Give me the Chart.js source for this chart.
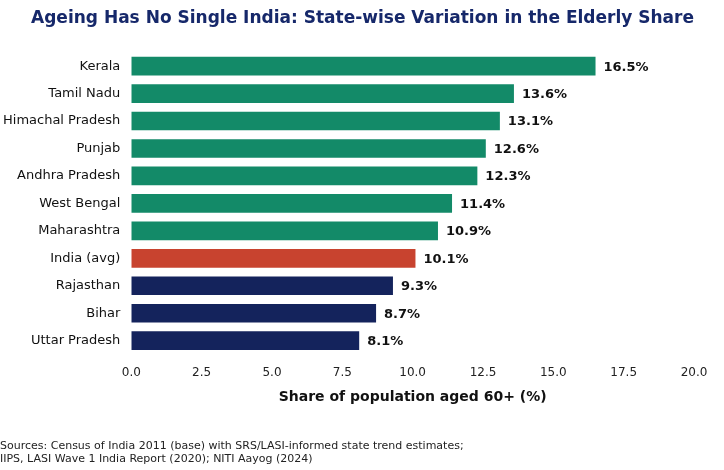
<!DOCTYPE html>
<html>
<head>
<meta charset="utf-8">
<script src="https://cdn.jsdelivr.net/npm/chart.js@4"></script>
<style>
  html, body { margin: 0; padding: 0; background: #fff; }
  #wrap { width: 724px; height: 470px; }
</style>
</head>
<body>
<div id="wrap"><canvas id="myChart"></canvas></div>
<script>
const states = ["Kerala", "Tamil Nadu", "Himachal Pradesh", "Punjab", "Andhra Pradesh", "West Bengal",
  "Maharashtra", "India (avg)", "Rajasthan", "Bihar", "Uttar Pradesh"];
const elderlyShare = [16.5, 13.6, 13.1, 12.6, 12.3, 11.4, 10.9, 10.1, 9.3, 8.7, 8.1];
const barColors = ["#138a68", "#138a68", "#138a68", "#138a68", "#138a68", "#138a68", "#138a68",
  "#c8432f", "#14235c", "#14235c", "#14235c"];
const xTicks = [0, 2.5, 5, 7.5, 10, 12.5, 15, 17.5, 20];

const valueLabels = {
  id: "valueLabels",
  afterDatasetsDraw(chart) {
    const ctx = chart.ctx;
    const meta = chart.getDatasetMeta(0);
    ctx.save();
    ctx.font = "bold 13px 'DejaVu Sans', sans-serif";
    ctx.fillStyle = "#111";
    ctx.textBaseline = "middle";
    meta.data.forEach((bar, i) => {
      ctx.fillText(elderlyShare[i].toFixed(1) + "%", bar.x + 8, bar.y + 1);
    });
    ctx.restore();
  }
};

const CHART = document.getElementById("myChart");
new Chart(CHART, {
  type: "bar",
  data: {
    labels: states,
    datasets: [{
      data: elderlyShare,
      backgroundColor: barColors,
      categoryPercentage: 0.8,
      barPercentage: 0.85
    }]
  },
  options: {
    indexAxis: "y",
    responsive: true,
    maintainAspectRatio: false,
    animation: false,
    layout: { padding: { left: 0, right: 30, top: 0, bottom: 4 } },
    plugins: {
      legend: { display: false },
      tooltip: { enabled: false },
      title: {
        display: true,
        text: "Ageing Has No Single India: State-wise Variation in the Elderly Share",
        color: "#16286a",
        font: { family: "'DejaVu Sans', sans-serif", size: 17, weight: "bold" },
        align: "end",
        padding: { top: 8, bottom: 24 }
      },
      subtitle: {
        display: true,
        position: "bottom",
        align: "start",
        text: ["Sources: Census of India 2011 (base) with SRS/LASI-informed state trend estimates;",
               "IIPS, LASI Wave 1 India Report (2020); NITI Aayog (2024)"],
        color: "#222",
        font: { family: "'DejaVu Sans', sans-serif", size: 11 },
        padding: { top: 30, bottom: 0 }
      }
    },
    scales: {
      x: {
        min: 0,
        max: 20,
        afterBuildTicks: axis => { axis.ticks = xTicks.map(v => ({ value: v })); },
        ticks: {
          callback: v => Number(v).toFixed(1),
          color: "#222",
          font: { family: "'DejaVu Sans', sans-serif", size: 12 }
        },
        grid: { display: false },
        border: { display: false },
        title: {
          display: true,
          text: "Share of population aged 60+ (%)",
          color: "#111",
          font: { family: "'DejaVu Sans', sans-serif", size: 14, weight: "bold" },
          padding: { top: 6 }
        }
      },
      y: {
        ticks: {
          color: "#111",
          font: { family: "'DejaVu Sans', sans-serif", size: 13 }
        },
        grid: { display: false },
        border: { display: false }
      }
    }
  },
  plugins: [valueLabels]
});
</script>
</body>
</html>
